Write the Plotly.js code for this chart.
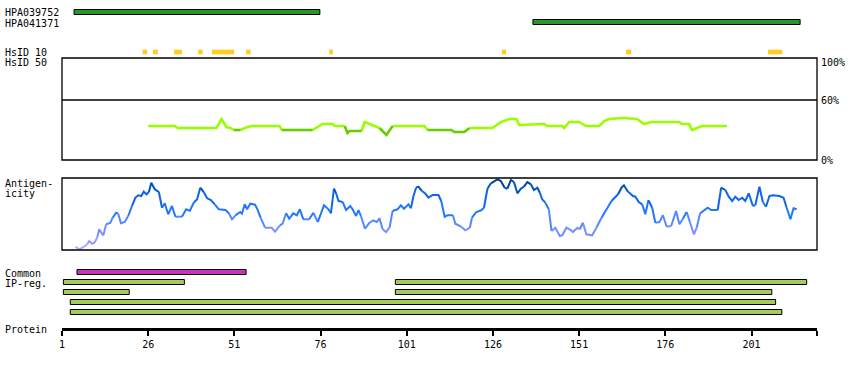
<!DOCTYPE html>
<html><head><meta charset="utf-8">
<script src="https://cdn.plot.ly/plotly-3.0.1.min.js"></script>
<style>html,body{margin:0;padding:0;background:#fff}</style>
</head><body><div id="chart" style="width:850px;height:370px"></div>
<script>
// ---- data ----
const proteinLength = 220;
const tickValues = [1, 26, 51, 76, 101, 126, 151, 176, 201];

const hpaNames = ['HPA039752', 'HPA041371'];
const hpaStart = [4.5, 137.6];
const hpaEnd = [75.8, 215.1];

const hsid10Start = [24.4, 27.4, 33.5, 40.5, 44.5, 54.4, 78.5, 128.6, 164.6, 205.8];
const hsid10End   = [25.7, 28.8, 35.8, 41.8, 50.9, 55.7, 79.6, 129.8, 166.1, 209.9];

const identityRes = [26,33.7,34.6,45.8,47.3,48.7,49.9,50.8,52.8,54,55.9,64.1,64.7,73.7,76.6,79.5,80.1,83,83.8,84.4,87.9,88.8,93.1,95.1,96.9,106.1,107,113.9,114.8,117.7,119.2,125.8,128.4,130.7,132.8,133.6,140.9,141.7,146.1,146.7,148.1,151,153,156.8,158.3,159.7,163.8,167.8,169.8,171.9,180,180.8,182.9,183.7,186.6,193.9];
const identityPct = [34,34,32,32,41,33,32,30,30,32,34,34,30,30,36,36,34,34,27,29,29,38,32,25,34,34,30,30,28,28,32,32,38,41,41,35,36,34,34,32,38,38,34,34,39,41,42,41,36,38,38,36,36,30,34,34];

const agRes = [4.9,6.0,7.3,8.3,8.9,9.7,10.4,11.2,11.8,12.4,13.0,13.8,15.0,15.7,16.7,17.3,18.1,19.2,20.2,21.3,22.3,23.1,24.0,24.7,25.5,26.2,26.9,27.9,29.1,30.0,30.8,31.8,32.9,33.9,35.8,37.0,38.1,39.2,40.2,41.1,42.1,43.1,44.2,45.3,46.5,48.4,49.4,50.3,51.3,52.7,53.2,54.0,54.7,55.6,57.0,57.7,58.6,59.9,61.8,62.8,64.2,65.0,66.0,66.9,68.1,69.1,70.0,71.0,72.7,73.9,75.2,77.0,78.3,79.0,79.9,80.5,81.2,82.4,83.4,84.6,85.3,86.3,87.0,87.7,88.9,90.2,91.3,92.3,93.1,94.0,95.0,96.0,96.9,98.3,99.3,100.2,101.5,102.2,102.9,103.7,104.4,105.4,106.3,107.3,108.5,110.2,111.0,112.0,112.8,114.4,115.1,116.8,118.0,119.3,119.9,121.2,122.6,123.4,124.4,125.4,127.3,128.3,129.4,130.2,131.2,132.1,133.1,134.1,135.0,136.0,137.0,137.9,138.9,139.6,140.3,141.2,142.2,143.0,144.1,145.4,146.1,147.3,148.6,149.2,150.5,151.2,152.1,153.1,154.8,156.0,157.5,158.9,160.4,162.3,163.3,164.0,165.2,165.6,166.6,167.3,168.3,169.3,170.2,171.1,172.2,173.1,174.3,175.3,176.4,177.7,179.1,180.1,181.1,182.2,183.2,184.3,185.1,186.1,187.3,188.3,189.3,191.2,192.2,193.4,194.4,195.4,196.3,197.3,198.3,199.2,200.2,201.4,202.1,203.3,204.3,205.2,206.2,207.2,209.1,210.3,211.2,212.3,213.2,214.1];
const agVal = [3.3,0.7,3,5.7,9,6.3,7.3,12.3,20.7,17.3,14.7,25.7,27,32.3,37.3,36.3,26.7,28,34,44,52.3,54.7,54,58.3,55.7,58,67.3,60.7,58,42.3,46.7,35.7,44,33.3,33.3,40.7,39.3,47.3,50.7,62.3,58,51.7,50,45.7,40.7,40,36.7,30.7,34.7,38,36.3,45.7,40.7,46.3,45.3,40.7,32.3,22.3,22.3,18.3,24.7,26.3,36.7,31.3,36.7,34.7,40.7,30.7,30.7,37.3,28,44.7,40.7,36.7,61.3,56.7,49,48,40,44,40.7,34,40,34,21.3,27.3,29.7,28,31.7,20.7,18,22.3,39,40.7,44.7,41.3,45.7,41.7,53.3,62.3,63.3,59,56.7,52.3,55,55,49,33.3,34.7,34.7,26.3,23.3,19.7,22.3,32.3,38,39.7,42.3,61.3,66.7,70.7,69,62.3,61.3,70,68,56.7,61.3,63.3,68,65.7,60,62.3,57.3,50.7,47.3,40.7,19,22.3,14,14.7,22.3,20,18,22.3,20.7,27.3,15.7,14.7,22.3,32.3,40.7,49,55.7,62.3,64.7,58,57.3,54,53.3,48,45.7,35.7,49.7,42.3,27.3,28,34.7,23.3,24,39,25.7,31.3,38,27.3,15.7,22.3,36.7,39.7,42.3,40,40,62.3,60,53.3,49,53.3,50,52.3,49,56.7,44,44.7,63.3,48,43.3,54,54.7,54,52.3,42.3,30.7,41.7,40.7];

const commonStart = [5.35];
const commonEnd = [54.4];
const ipRow = [1, 1, 2, 2, 3, 4];
const ipStart = [1.4, 97.7, 1.4, 97.7, 3.4, 3.4];
const ipEnd = [36.5, 217.0, 20.5, 206.9, 208.0, 209.8];

// ---- helpers ----
const W = 850, H = 370, ML = 62, MR = 33;
const PW = W - ML - MR;
const fx = px => (px - ML) / PW;
const fy = py => 1 - py / H;
const FONT = 'DejaVu Sans Mono, monospace';

function bandTraces(xs, ys, bandFn, colors, yaxis, width) {
  const runs = {};
  let prev = null;
  for (let i = 0; i < xs.length - 1; i++) {
    const b = bandFn((ys[i] + ys[i + 1]) / 2);
    if (!runs[b]) runs[b] = {x: [], y: []};
    const r = runs[b];
    if (b !== prev) {
      if (r.x.length) { r.x.push(null); r.y.push(null); }
      r.x.push(xs[i]); r.y.push(ys[i]);
    }
    r.x.push(xs[i + 1]); r.y.push(ys[i + 1]);
    prev = b;
  }
  return Object.keys(runs).map(b => ({
    type: 'scatter', mode: 'lines', x: runs[b].x, y: runs[b].y,
    xaxis: 'x', yaxis: yaxis, connectgaps: false, hoverinfo: 'skip',
    line: {color: colors[b], width: width}
  }));
}

const traces = [];
// HPA antibody bars
traces.push({
  type: 'bar', orientation: 'h', xaxis: 'x', yaxis: 'y',
  y: hpaNames.map((_, i) => i), base: hpaStart,
  x: hpaEnd.map((e, i) => e - hpaStart[i]), width: 0.5,
  marker: {color: '#22992a', line: {color: '#000', width: 1}}, hoverinfo: 'skip'
});
// HsID 10 blocks
traces.push({
  type: 'bar', orientation: 'h', xaxis: 'x', yaxis: 'y',
  y: hsid10Start.map(() => 4), base: hsid10Start,
  x: hsid10End.map((e, i) => e - hsid10Start[i]), width: 0.47,
  marker: {color: '#ffcc22', line: {width: 0}}, hoverinfo: 'skip'
});
// identity line
traces.push(...bandTraces(identityRes, identityPct,
  v => (v <= 30.5 ? 'dark' : 'light'),
  {dark: '#66cc00', light: '#99ff00'}, 'y2', 2.6));
// antigenicity line
const agColors = ['#b0a8ff', '#9a9cff', '#7a8fff', '#5588ff', '#2277ff', '#0f66e6', '#0055c4', '#004499'];
const agLimits = [6, 14, 24, 34, 46, 58, 65];
traces.push(...bandTraces(agRes, agVal, v => {
  let k = 0; while (k < agLimits.length && v >= agLimits[k]) k++; return k;
}, agColors, 'y3', 2));
// common region
traces.push({
  type: 'bar', orientation: 'h', xaxis: 'x', yaxis: 'y4',
  y: commonStart.map(() => 0), base: commonStart,
  x: commonEnd.map((e, i) => e - commonStart[i]), width: 0.5,
  marker: {color: '#cc33bb', line: {color: '#000', width: 1}}, hoverinfo: 'skip'
});
// IP-reg bars
traces.push({
  type: 'bar', orientation: 'h', xaxis: 'x', yaxis: 'y4',
  y: ipRow, base: ipStart,
  x: ipEnd.map((e, i) => e - ipStart[i]), width: 0.5,
  marker: {color: '#a5cc5a', line: {color: '#000', width: 1}}, hoverinfo: 'skip'
});

const hiddenY = {visible: false, fixedrange: true, showgrid: false, zeroline: false};
const lbl = (text, px, py, extra) => Object.assign({
  text: text, xref: 'paper', yref: 'paper', x: fx(px), y: fy(py),
  xanchor: 'left', yanchor: 'middle', showarrow: false,
  font: {family: FONT, size: 10, color: '#000'}
}, extra || {});

const layout = {
  width: W, height: H, autosize: false,
  margin: {l: ML, r: MR, t: 0, b: 0, pad: 0},
  paper_bgcolor: '#fff', plot_bgcolor: 'rgba(0,0,0,0)',
  showlegend: false, barmode: 'overlay', hovermode: false,
  xaxis: {
    range: [1, proteinLength], anchor: 'free', position: fy(329),
    showline: true, linecolor: '#000', linewidth: 3,
    ticks: 'outside', ticklen: 5, tickwidth: 2, tickcolor: '#000',
    tickvals: tickValues.concat([proteinLength]),
    ticktext: tickValues.map(String).concat(['']),
    tickfont: {family: FONT, size: 10, color: '#000'},
    showgrid: false, zeroline: false, fixedrange: true
  },
  yaxis: Object.assign({domain: [fy(67), fy(7)], range: [5.5, -0.5]}, hiddenY),
  yaxis2: Object.assign({domain: [fy(160), fy(58)], range: [0, 102]}, hiddenY),
  yaxis3: Object.assign({domain: [fy(250), fy(178)], range: [0, 72]}, hiddenY),
  yaxis4: Object.assign({domain: [fy(317), fy(267)], range: [4.5, -0.5]}, hiddenY),
  shapes: [
    {type: 'rect', xref: 'paper', x0: 0, x1: 1, yref: 'y2 domain', y0: 0, y1: 1, line: {color: '#000', width: 1.3}},
    {type: 'line', xref: 'paper', x0: 0, x1: 1, yref: 'y2', y0: 60, y1: 60, line: {color: '#000', width: 1.3}},
    {type: 'rect', xref: 'paper', x0: 0, x1: 1, yref: 'y3 domain', y0: 0, y1: 1, line: {color: '#000', width: 1.3}}
  ],
  annotations: [
    lbl('HPA039752', 3, 13),
    lbl('HPA041371', 3, 23),
    lbl('HsID 10', 3, 52),
    lbl('HsID 50', 3, 62.5),
    lbl('Antigen-', 3, 183),
    lbl('icity', 3, 193),
    lbl('Common', 3, 273),
    lbl('IP-reg.', 3, 283),
    lbl('Protein', 3, 329.5),
    lbl('100%', 819, 62),
    lbl('60%', 819, 100),
    lbl('0%', 819, 160)
  ]
};

Plotly.newPlot('chart', traces, layout, {staticPlot: true, displayModeBar: false});
</script></body></html>
